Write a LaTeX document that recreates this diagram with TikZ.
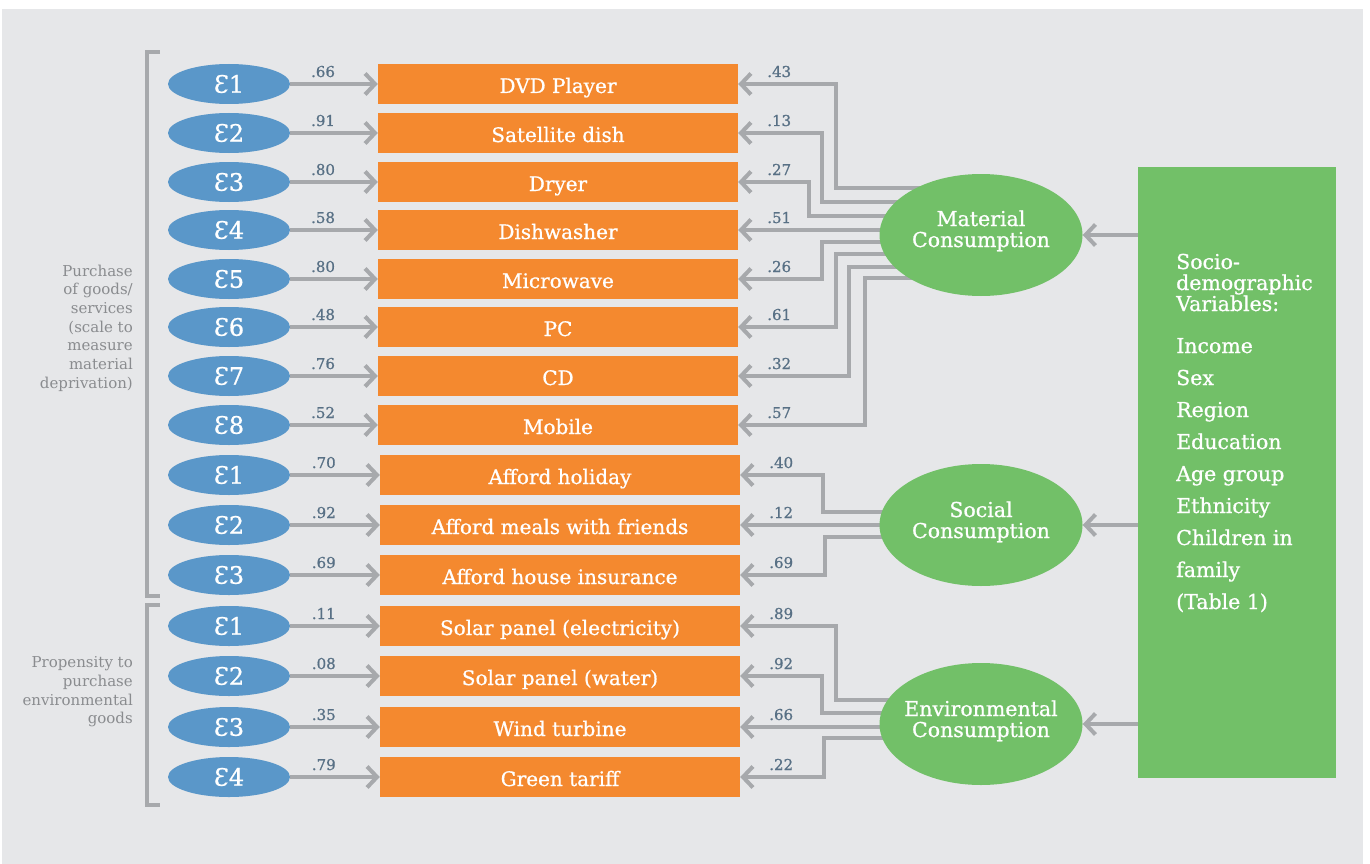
\documentclass[tikz,border=0pt]{standalone}
\usepackage{fontspec}
\setmainfont{DejaVu Serif}
\newfontfamily\medfont{DejaVu Serif}[FakeBold=0.8]
\usetikzlibrary{shapes.geometric,arrows.meta}
\pgfdeclarelayer{back}
\pgfdeclarelayer{wires}
\pgfsetlayers{back,wires,main}

\definecolor{panelgray}{HTML}{E6E7E9}
\definecolor{errblue}{HTML}{5A97C9}
\definecolor{itemorange}{HTML}{F4892F}
\definecolor{latgreen}{HTML}{72C068}
\definecolor{wiregray}{HTML}{A7A9AC}
\definecolor{coefslate}{HTML}{587085}
\definecolor{sidegray}{HTML}{8A8C8F}

\begin{document}
\begin{tikzpicture}[x=1pt,y=-1pt,
  err/.style={ellipse, fill=errblue, minimum width=122pt, minimum height=40pt,
    inner sep=0pt, text=white, font=\medfont\fontsize{24}{24}\selectfont},
  item/.style={rectangle, fill=itemorange, minimum width=360pt, minimum height=40pt,
    inner sep=0pt, text height=18pt, text depth=0pt, text=white,
    font=\medfont\fontsize{20}{20}\selectfont},
  latent/.style={ellipse, fill=latgreen, minimum width=203pt, minimum height=122pt,
    inner sep=0pt},
  lattext/.style={text=white, inner sep=0pt, anchor=base,
    font=\medfont\fontsize{20.5}{21}\selectfont},
  conn/.style={draw=wiregray, line width=4pt,
    -{Straight Barb[length=10pt,width=21pt]}},
  coef/.style={text=coefslate, inner sep=0pt, anchor=base,
    font=\medfont\fontsize{15}{15}\selectfont},
  side/.style={text=sidegray, inner sep=0pt, font=\fontsize{15}{18.7}\selectfont},
  bracket/.style={draw=wiregray, line width=3.5pt},
  soctext/.style={text=white, inner sep=0pt, anchor=base west,
    font=\medfont\fontsize{20.5}{21}\selectfont}
]
\useasboundingbox (0,0) rectangle (1370,864);

% panel behind everything
\begin{pgfonlayer}{back}
  \fill[white] (0,0) rectangle (1370,864);
  \fill[panelgray] (2,9) rectangle (1363,864);
\end{pgfonlayer}

% error terms, indicators and their loadings
\foreach \i/\e/\lc/\y/\bx/\txt in {
  1/1/.66/84/558/{DVD Player},
  2/2/.91/133/558/{Satellite dish},
  3/3/.80/182/558/{Dryer},
  4/4/.58/230/558/{Dishwasher},
  5/5/.80/279/558/{Microwave},
  6/6/.48/327/558/{PC},
  7/7/.76/376/558/{CD},
  8/8/.52/425/558/{Mobile},
  9/1/.70/475/560/{Afford holiday},
  10/2/.92/525/560/{Afford meals with friends},
  11/3/.69/575/560/{Afford house insurance},
  12/1/.11/626/560/{Solar panel (electricity)},
  13/2/.08/676/560/{Solar panel (water)},
  14/3/.35/727/560/{Wind turbine},
  15/4/.79/777/560/{Green tariff}} {
  \node[err] (e\i) at (229,\y) {Ɛ\e};
  \node[item] (b\i) at (\bx,\y) {\txt};
  \begin{pgfonlayer}{wires}
    \draw[conn] (e\i) -- (b\i) node[coef, pos=.375, yshift=7pt] {\lc};
  \end{pgfonlayer}
}

% latent factors with their two-line captions
\node[latent] (mat) at (981,235) {};
\node[latent] (soc) at (981,525) {};
\node[latent] (env) at (981,724) {};
\node[lattext] (mat1) at (981,226) {Material};
\node[lattext] (mat2) at (981,247) {Consumption};
\node[lattext] (soc1) at (981,517) {Social};
\node[lattext] (soc2) at (981,538) {Consumption};
\node[lattext] (env1) at (981,716) {Environmental};
\node[lattext] (env2) at (981,737) {Consumption};

% socio-demographic block
\node[rectangle, fill=latgreen, minimum width=198pt, minimum height=611pt,
  inner sep=0pt] (socio) at (1237,472.5) {};
\foreach \k/\y/\t in {1/269/Socio-, 2/290/demographic, 3/311/Variables:,
  4/353/Income, 5/385/Sex, 6/417/Region, 7/449/Education, 8/481/Age group,
  9/513/Ethnicity, 10/545/Children in, 11/577/family, 12/609/(Table 1)}
  \node[soctext] (sv\k) at (1176,\y) {\t};

\begin{pgfonlayer}{wires}
  % material consumption loadings
  \foreach \i/\vx/\vy in {1/836/188, 2/822/202, 3/809/216, 5/822/242,
                          6/836/254, 7/849/267, 8/865/278}
    \draw[conn] (mat.center |- 0,\vy) -- (\vx,\vy) |- (b\i.east);
  \draw[conn] (mat.center |- b4.east) -- (b4.east);
  % social consumption loadings
  \foreach \i/\vx/\vy in {9/823/512, 11/825/537}
    \draw[conn] (soc.center |- 0,\vy) -- (\vx,\vy) |- (b\i.east);
  \draw[conn] (soc.center |- b10.east) -- (b10.east);
  % environmental consumption loadings
  \foreach \i/\vx/\vy in {12/836/700, 13/822/713, 15/824/738}
    \draw[conn] (env.center |- 0,\vy) -- (\vx,\vy) |- (b\i.east);
  \draw[conn] (env.center |- b14.east) -- (b14.east);
  % socio-demographic effects
  \draw[conn] (socio.west |- mat.center) -- (mat.east);
  \draw[conn] (socio.west |- soc.center) -- (soc.east);
  \draw[conn] (socio.west |- env.center) -- (env.east);
\end{pgfonlayer}

% loading values next to the indicators
\foreach \i/\c in {1/.43, 2/.13, 3/.27, 4/.51, 5/.26, 6/.61, 7/.32, 8/.57,
                   9/.40, 10/.12, 11/.69, 12/.89, 13/.92, 14/.66, 15/.22}
  \node[coef] (c\i) at ([xshift=41pt,yshift=7pt]b\i.east) {\c};

% group brackets and captions
\draw[bracket] (160,52) -- (147,52) -- (147,596) -- (160,596);
\draw[bracket] (160,605) -- (147,605) -- (147,805) -- (160,805);
\node[side, anchor=east, align=right] (grp1) at (133,328)
  {Purchase\\of goods/\\services\\(scale to\\measure\\material\\deprivation)};
\node[side, anchor=east, align=right] (grp2) at (133,692)
  {Propensity to\\purchase\\environmental\\goods};
\end{tikzpicture}
\end{document}
